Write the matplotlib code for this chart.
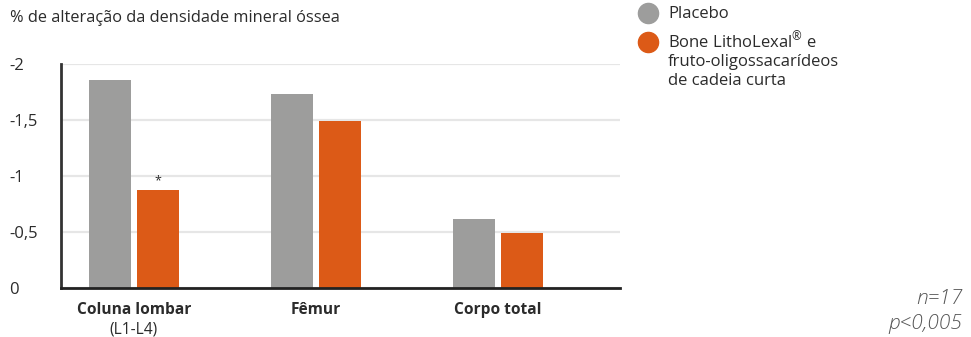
import matplotlib
matplotlib.use("Agg")
import matplotlib.pyplot as plt
from matplotlib.lines import Line2D
from matplotlib.transforms import blended_transform_factory
import numpy as np

plt.rcParams['font.family'] = ['Open Sans', 'DejaVu Sans']
plt.rcParams['mathtext.fontset'] = 'custom'
plt.rcParams['mathtext.rm'] = 'Open Sans'
plt.rcParams['mathtext.default'] = 'regular'

# Mean % change in bone mineral density (losses shown as negative)
categories = ["Coluna lombar", "Fêmur", "Corpo total"]
subcategories = ["(L1-L4)", "", ""]
placebo = [-1.86, -1.73, -0.62]
treatment = [-0.875, -1.49, -0.49]
significant = [True, False, False]
series_names = ["Placebo",
                "Bone LithoLexal$^{\u00ae}$ e\nfruto-oligossacarídeos\nde cadeia curta"]
yticks = [0, -0.5, -1, -1.5, -2]
ytick_labels = ["0", "-0,5", "-1", "-1,5", "-2"]

GRAY = "#9d9d9c"
ORANGE = "#dc5a17"
TEXT = "#2b2b2b"

fig = plt.figure(figsize=(9.71, 3.37), dpi=100)
ax = fig.add_axes([61 / 971, 49 / 337, 559 / 971, 224 / 337])

x = np.arange(len(categories))
w = 0.23
off = 0.132
ax.bar(x - off, placebo, width=w, color=GRAY, zorder=3)
ax.bar(x + off, treatment, width=w, color=ORANGE, zorder=3)

for xi, v, sig in zip(x, treatment, significant):
    if sig:
        ax.text(xi + off, v - 0.02, "*", ha="center", va="bottom",
                fontsize=9, color=TEXT)

ax.set_xlim(-0.40, 2.67)
ax.set_ylim(0, -2)
ax.set_yticks(yticks)
ax.set_yticklabels(ytick_labels)
ax.tick_params(axis="y", length=0, pad=37, labelsize=12, labelcolor=TEXT)
for lab in ax.get_yticklabels():
    lab.set_horizontalalignment("left")
ax.yaxis.grid(True, color="#e6e6e6", linewidth=1.6, zorder=0)
ax.set_axisbelow(True)

ax.set_xticks(x)
ax.set_xticklabels(categories, fontweight="bold", fontsize=11.2, color=TEXT)
ax.tick_params(axis="x", length=0, pad=10)

trans = blended_transform_factory(ax.transData, fig.transFigure)
for xi, sub in zip(x, subcategories):
    if sub:
        ax.text(xi, 8 / 337, sub, transform=trans, ha="center", va="center",
                fontsize=11.2, color=TEXT)

for side in ["top", "right"]:
    ax.spines[side].set_visible(False)
ax.spines["left"].set_color("#333333")
ax.spines["left"].set_linewidth(2)
ax.spines["bottom"].set_color("#222222")
ax.spines["bottom"].set_linewidth(2)
ax.spines["bottom"].set_zorder(4)

fig.text(10 / 971, 1 - 18 / 337, "% de alteração da densidade mineral óssea",
         ha="left", va="center", fontsize=11.8, color=TEXT)

# Legend: circle markers with labels, one baseline per text line
legend_rows = [13, 42]
line_step = 19
for name, color, yrow in zip(series_names, (GRAY, ORANGE), legend_rows):
    fig.add_artist(Line2D([648 / 971], [1 - yrow / 337], marker="o",
                          linestyle="none", markersize=14.5,
                          markerfacecolor=color, markeredgecolor=color,
                          transform=fig.transFigure))
    for i, line in enumerate(name.split("\n")):
        fig.text(668 / 971, 1 - (yrow + 5 + i * line_step) / 337, line,
                 ha="left", va="baseline", fontsize=12, color=TEXT)

fig.text(962 / 971, 1 - 299 / 337, "n=17", ha="right", va="center",
         fontsize=15, style="italic", color="#555555", fontweight="light")
fig.text(962 / 971, 1 - 324 / 337, "p<0,005", ha="right", va="center",
         fontsize=15, style="italic", color="#555555", fontweight="light")

fig.savefig("out.png", dpi=100)
